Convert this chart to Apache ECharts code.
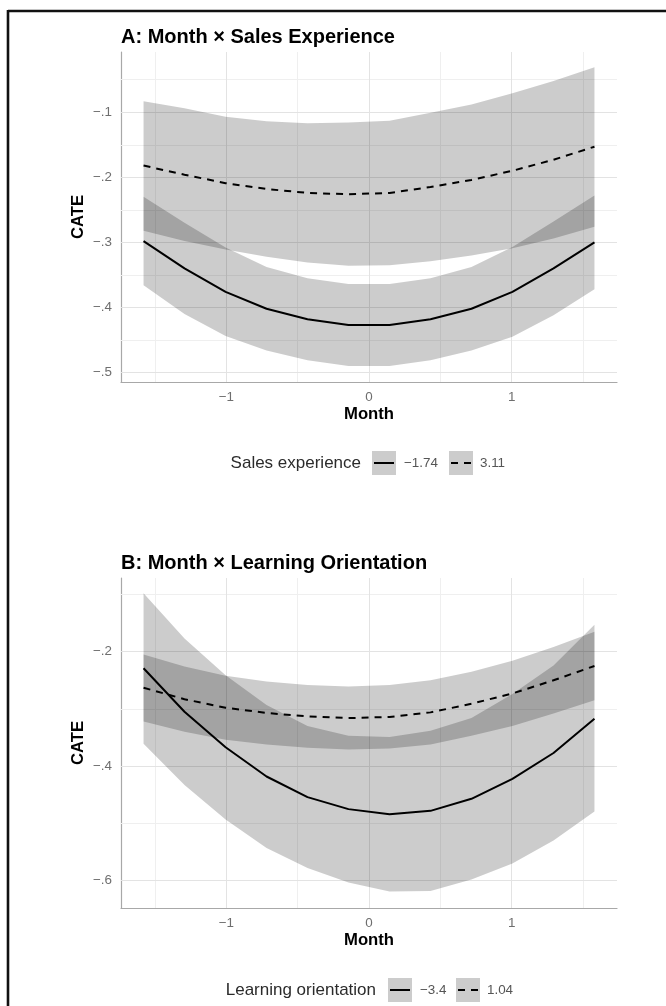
<!DOCTYPE html>
<html>
<head>
<meta charset="utf-8">
<script src="https://cdn.jsdelivr.net/npm/echarts@6/dist/echarts.min.js"></script>
<style>
  html, body { margin: 0; padding: 0; background: #fff; overflow: hidden; }
  #chart { width: 666px; height: 1006px; }
</style>
</head>
<body>
<div id="chart"></div>
<script>
// Standardised month values at which the conditional effects were predicted
const months = [-1.58, -1.293, -1.005, -0.718, -0.431, -0.144, 0.144, 0.431, 0.718, 1.005, 1.293, 1.58];

// Panel A: Month x Sales Experience (moderator at -1.74 and 3.11)
const salesLowFit   = [-0.298, -0.340, -0.376, -0.402, -0.418, -0.427, -0.427, -0.418, -0.402, -0.376, -0.340, -0.300];
const salesLowLower = [-0.366, -0.410, -0.444, -0.466, -0.481, -0.490, -0.490, -0.481, -0.466, -0.445, -0.412, -0.372];
const salesLowUpper = [-0.230, -0.270, -0.308, -0.338, -0.355, -0.364, -0.364, -0.355, -0.338, -0.307, -0.268, -0.228];
const salesHighFit   = [-0.182, -0.196, -0.209, -0.218, -0.224, -0.226, -0.224, -0.215, -0.204, -0.190, -0.173, -0.153];
const salesHighLower = [-0.282, -0.298, -0.311, -0.322, -0.331, -0.336, -0.335, -0.329, -0.320, -0.309, -0.294, -0.276];
const salesHighUpper = [-0.083, -0.094, -0.107, -0.114, -0.117, -0.116, -0.113, -0.101, -0.088, -0.071, -0.052, -0.031];

// Panel B: Month x Learning Orientation (moderator at -3.4 and 1.04)
const learnLowFit   = [-0.229, -0.305, -0.367, -0.418, -0.454, -0.475, -0.484, -0.478, -0.457, -0.422, -0.377, -0.317];
const learnLowLower = [-0.361, -0.433, -0.493, -0.543, -0.578, -0.603, -0.619, -0.618, -0.598, -0.570, -0.530, -0.479];
const learnLowUpper = [-0.098, -0.177, -0.241, -0.293, -0.330, -0.347, -0.349, -0.338, -0.316, -0.274, -0.224, -0.153];
const learnHighFit   = [-0.263, -0.283, -0.298, -0.307, -0.313, -0.316, -0.314, -0.306, -0.291, -0.273, -0.250, -0.225];
const learnHighLower = [-0.322, -0.340, -0.354, -0.362, -0.368, -0.371, -0.369, -0.362, -0.347, -0.330, -0.308, -0.285];
const learnHighUpper = [-0.205, -0.226, -0.242, -0.252, -0.258, -0.261, -0.258, -0.250, -0.235, -0.216, -0.192, -0.165];

// Tick and grid values
const xTicks = [-1, 0, 1];
const xMinor = [-1.5, -0.5, 0.5, 1.5];
const yTicksA = [-0.5, -0.4, -0.3, -0.2, -0.1];
const yMinorA = [-0.45, -0.35, -0.25, -0.15, -0.05];
const yTicksB = [-0.6, -0.4, -0.2];
const yMinorB = [-0.5, -0.3, -0.1];

// Text
const titleA = 'A: Month × Sales Experience';
const titleB = 'B: Month × Learning Orientation';
const legendTitleA = 'Sales experience';
const legendTitleB = 'Learning orientation';
const legendLabelsA = ['\u22121.74', '3.11'];
const legendLabelsB = ['\u22123.4', '1.04'];

const FONT = '"Liberation Sans", Arial, Helvetica, sans-serif';
const BAND = 'rgba(0,0,0,0.2)';
const DASH = [7, 6];
const MAJOR = '#e3e3e3';
const MINOR = '#efefef';

function minusFmt(v, digits) {
  const r = Math.round(v * 1000) / 1000;
  if (r === 0) return '0';
  let s = digits != null ? Math.abs(r).toFixed(digits) : String(Math.abs(r));
  s = s.replace(/^0\./, '.');
  return (r < 0 ? '\u2212' : '') + s;
}

function bandSeries(gi, lo, hi) {
  return {
    type: 'custom',
    xAxisIndex: gi, yAxisIndex: gi,
    z: 3, silent: true, animation: false,
    data: months.map((m, i) => [m, lo[i], hi[i]]),
    encode: { x: 0, y: [1, 2] },
    renderItem: function (params, api) {
      if (params.dataIndex !== 0) return null;
      const pts = [];
      for (let i = 0; i < months.length; i++) pts.push(api.coord([months[i], hi[i]]));
      for (let i = months.length - 1; i >= 0; i--) pts.push(api.coord([months[i], lo[i]]));
      return { type: 'polygon', shape: { points: pts }, style: { fill: BAND } };
    }
  };
}

function gridLines(yMajor, yMinor) {
  const d = [];
  xMinor.forEach(v => d.push({ xAxis: v, lineStyle: { color: MINOR, width: 1 } }));
  yMinor.forEach(v => d.push({ yAxis: v, lineStyle: { color: MINOR, width: 1 } }));
  xTicks.forEach(v => d.push({ xAxis: v, lineStyle: { color: MAJOR, width: 1 } }));
  yMajor.forEach(v => d.push({ yAxis: v, lineStyle: { color: MAJOR, width: 1 } }));
  return {
    z: 1, silent: true, animation: false, symbol: ['none', 'none'],
    label: { show: false }, emphasis: { disabled: true },
    lineStyle: { type: 'solid' },
    data: d
  };
}

function fitSeries(gi, y, dashed, marks) {
  const s = {
    type: 'line',
    xAxisIndex: gi, yAxisIndex: gi,
    z: 4, silent: true, animation: false,
    showSymbol: false, symbol: 'none',
    data: months.map((m, i) => [m, y[i]]),
    lineStyle: { color: '#000', width: 2, type: dashed ? DASH : 'solid', cap: 'butt' }
  };
  if (marks) s.markLine = marks;
  return s;
}

function xAxisDef(gi) {
  return {
    gridIndex: gi, type: 'value', min: -1.738, max: 1.738, splitNumber: 3,
    axisLine: { show: true, onZero: false, lineStyle: { color: '#a8a8a8', width: 1.2 } },
    axisTick: { show: false },
    splitLine: { show: false },
    axisLabel: {
      customValues: xTicks, showMinLabel: true, showMaxLabel: true,
      formatter: v => minusFmt(v), color: '#6e6e6e', fontSize: 13.4, margin: 9, fontFamily: FONT
    },
    name: 'Month', nameLocation: 'middle', nameGap: 24, nameMoveOverlap: false,
    nameTextStyle: { fontWeight: 'bold', fontSize: 16.7, color: '#000', fontFamily: FONT }
  };
}

function yAxisDef(gi, min, max, ticks, splitNumber) {
  return {
    gridIndex: gi, type: 'value', min: min, max: max, splitNumber: splitNumber,
    axisLine: { show: true, onZero: false, lineStyle: { color: '#a8a8a8', width: 1.2 } },
    axisTick: { show: false },
    splitLine: { show: false },
    axisLabel: {
      customValues: ticks, showMinLabel: true, showMaxLabel: true,
      formatter: v => minusFmt(v, 1), color: '#6e6e6e', fontSize: 13.4, margin: 9, fontFamily: FONT
    },
    name: 'CATE', nameLocation: 'middle', nameGap: 34, nameMoveOverlap: false,
    nameTextStyle: { fontWeight: 'bold', fontSize: 16.7, color: '#000', fontFamily: FONT }
  };
}

// Legend key: grey square with a black line sample
function legendKey(x, cy, dashed) {
  return [
    { type: 'rect', shape: { x: x, y: cy - 12, width: 24, height: 24 }, style: { fill: BAND }, silent: true },
    { type: 'line', shape: { x1: x + 2, y1: cy, x2: x + 22, y2: cy },
      style: { stroke: '#000', lineWidth: 2, lineDash: dashed ? DASH : null }, silent: true }
  ];
}

function legendGroup(cy, title, labels, titleRight, key1, lab1, key2, lab2) {
  return [
    { type: 'text', x: titleRight, y: cy, silent: true,
      style: { text: title, fill: '#2b2b2b', font: '17px ' + FONT, align: 'right', verticalAlign: 'middle' } },
    ...legendKey(key1, cy, false),
    { type: 'text', x: lab1, y: cy, silent: true,
      style: { text: labels[0], fill: '#555', font: '13.4px ' + FONT, align: 'left', verticalAlign: 'middle' } },
    ...legendKey(key2, cy, true),
    { type: 'text', x: lab2, y: cy, silent: true,
      style: { text: labels[1], fill: '#555', font: '13.4px ' + FONT, align: 'left', verticalAlign: 'middle' } }
  ];
}

const chart = echarts.init(document.getElementById('chart'), null, { renderer: 'canvas' });

chart.setOption({
  animation: false,
  backgroundColor: '#fff',
  textStyle: { fontFamily: FONT },
  title: [
    { text: titleA, left: 121, top: 27, padding: 0,
      textStyle: { fontSize: 20, fontWeight: 'bold', color: '#000', fontFamily: FONT } },
    { text: titleB, left: 121, top: 553, padding: 0,
      textStyle: { fontSize: 20, fontWeight: 'bold', color: '#000', fontFamily: FONT } }
  ],
  grid: [
    { left: 121, top: 52, width: 496, height: 330, outerBoundsMode: 'none' },
    { left: 121, top: 578, width: 496, height: 330, outerBoundsMode: 'none' }
  ],
  xAxis: [xAxisDef(0), xAxisDef(1)],
  yAxis: [
    yAxisDef(0, -0.5145, -0.0075, yTicksA, 5),
    yAxisDef(1, -0.6477, -0.0713, yTicksB, 3)
  ],
  series: [
    bandSeries(0, salesLowLower, salesLowUpper),
    bandSeries(0, salesHighLower, salesHighUpper),
    fitSeries(0, salesLowFit, false, gridLines(yTicksA, yMinorA)),
    fitSeries(0, salesHighFit, true),
    bandSeries(1, learnLowLower, learnLowUpper),
    bandSeries(1, learnHighLower, learnHighUpper),
    fitSeries(1, learnLowFit, false, gridLines(yTicksB, yMinorB)),
    fitSeries(1, learnHighFit, true)
  ],
  graphic: [
    // outer frame: top and left edges
    { type: 'line', silent: true, shape: { x1: 8, y1: 11, x2: 666, y2: 11 },
      style: { stroke: '#111', lineWidth: 2.6 } },
    { type: 'line', silent: true, shape: { x1: 8, y1: 10, x2: 8, y2: 1006 },
      style: { stroke: '#111', lineWidth: 2.6 } },
    ...legendGroup(463, legendTitleA, legendLabelsA, 361, 372, 404, 449, 480),
    ...legendGroup(990, legendTitleB, legendLabelsB, 376, 388, 420, 456, 487)
  ]
});
</script>
</body>
</html>
